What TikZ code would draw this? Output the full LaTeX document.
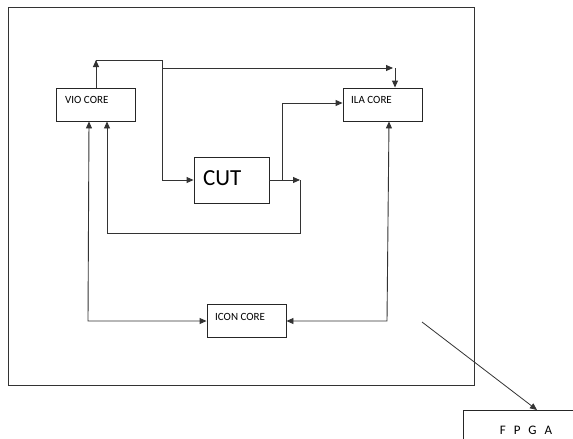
\documentclass[tikz,border=0pt]{standalone}
\usepackage{fontspec}
\setmainfont{Carlito}
\usetikzlibrary{arrows.meta,calc}
\tikzset{
  box/.style={draw=black!85, line width=0.9pt, minimum width=79pt, minimum height=33pt, inner sep=0pt},
  lbl/.style={anchor=west, inner sep=0pt, font=\fontsize{11pt}{12pt}\selectfont, text=black},
  conn/.style={draw=black!80, line width=0.9pt},
  arr/.style={conn, -{Triangle[length=7pt,width=6pt]}},
  darr/.style={conn, {Triangle[length=7pt,width=6pt]}-{Triangle[length=7pt,width=6pt]}}
}
\begin{document}
\begin{tikzpicture}[x=1pt,y=-1pt]
\useasboundingbox (0,0) rectangle (573,439);
\fill[white] (0,0) rectangle (573,439);
% outer frame
\draw[draw=black!80, line width=0.9pt] (8,7) rectangle (474,385);
% boxes
\node[box] (vio) at (95.5,104.5) {};
\node[box] (ila) at (382.5,104.5) {};
\node[box] (icon) at (246.5,320.5) {};
\node[box, minimum width=75pt, minimum height=46pt] (cut) at (231.5,180) {};
\node[lbl] (viol) at (65,100) {VIO CORE};
\node[lbl] (ilal) at (351,100) {ILA CORE};
\node[lbl] (iconl) at (215,317) {ICON CORE};
\node[lbl, font=\fontsize{23pt}{25pt}\selectfont] (cutl) at (203,178) {CUT};
% FPGA box (partly outside)
\node[draw=black!85, line width=0.9pt, minimum width=120pt, minimum height=40pt, anchor=north west, inner sep=0pt] (fpga) at (463,410) {};
\node[inner sep=0pt, font=\fontsize{13pt}{14pt}\selectfont, text=black] (fpgal) at (526,430) {F\hspace{8pt}P\hspace{8pt}G\hspace{8pt}A};
% coordinates
\coordinate (a1) at (96,60);
\coordinate (a2) at (162,60);
\coordinate (a3) at (162,180);
\coordinate (b1) at (162,68);
\coordinate (b2) at (393,68);
\coordinate (b3) at (395,68);
\coordinate (c1) at (300,180);
\coordinate (c2) at (300,233);
\coordinate (c3) at (107,233);
\coordinate (d1) at (282,180);
\coordinate (d2) at (282,103);
\coordinate (e1) at (88,321);
\coordinate (f1) at (387,321);
\coordinate (g1) at (422,322);
\coordinate (g2) at (537,410);
% connectors
\draw[arr] (vio.north -| a1) -- (a1);
\draw[arr] (a1) -- (a2) -- (a3) -- (cut.west |- a3);
\draw[arr] (b1) -- (b2);
\draw[arr] (b3) -- (ila.north -| b3);
\draw[arr] (cut.east |- c1) -- (c1);
\draw[arr] (c1) -- (c2) -- (c3) -- (vio.south -| c3);
\draw[arr] (d1) -- (d2) -- (ila.west |- d2);
\draw[darr] (vio.south -| 89,0) -- (e1) -- (icon.west |- e1);
\draw[darr] (ila.south -| 389,0) -- (f1) -- (icon.east |- f1);
\draw[arr, line width=0.8pt] (g1) -- (g2);
\end{tikzpicture}
\end{document}
